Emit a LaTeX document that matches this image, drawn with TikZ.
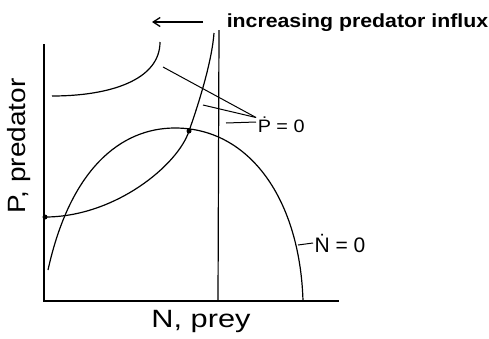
\documentclass[tikz,border=0pt]{standalone}
\usepackage{fontspec}
\setmainfont{Liberation Sans}
\usepackage{tikz}
\usetikzlibrary{arrows.meta, positioning}

\begin{document}
\begin{tikzpicture}[x=1pt, y=-1pt, >={Straight Barb[length=7pt,width=9pt]}, line width=1.2pt, every node/.style={align=center, inner sep=1pt}]
      \tikzset{axisline/.style={line width=2.6pt}, leader/.style={line width=1pt}, dotmark/.style={circle, fill, inner sep=0pt, minimum size=5pt}}
      \useasboundingbox (0, 0) rectangle (489, 338);
      \draw[axisline] (44, 44) -- (44, 301) -- (339, 301);
      \draw (218, 301) -- (219, 30);
      \draw (48, 270) .. controls (70, 170) and (120, 128) .. (175, 128) .. controls (250, 128) and (300, 200) .. (303, 301);
      \draw (45, 217) .. controls (115, 217) and (178, 165) .. (189, 131) .. controls (200, 100) and (212, 60) .. (214, 33);
      \draw (52, 96) .. controls (110, 96) and (160, 80) .. (160, 42);
      \node[dotmark] (eqlow) at (45, 217) {};
      \node[dotmark] (eqhigh) at (189, 131) {};
      \node[font=\bfseries\fontsize{19}{19}\selectfont, anchor=west, xscale=1.12] (influx) at (225, 23) {increasing predator influx};
      \coordinate (arrowstart) at (203, 22);
      \coordinate (arrowend) at (152, 22);
      \draw[->, line width=1.3pt] (arrowstart) -- (arrowend);
      \node[font=\fontsize{18}{18}\selectfont, anchor=west, xscale=1.1] (pdot) at (256, 125) {\.{P} = 0};
      \coordinate (pa) at (163, 67);
      \coordinate (pb) at (203, 105);
      \coordinate (pc) at (226, 123);
      \draw[leader] (pa) -- ([yshift=-2pt]pdot.north west);
      \draw[leader] (pb) -- ([yshift=-2pt]pdot.north west);
      \draw[leader] (pc) -- ([yshift=3pt]pdot.west);
      \node[font=\fontsize{21}{21}\selectfont, anchor=west] (ndot) at (313, 243) {\.{N} = 0};
      \coordinate (na) at (298, 245);
      \draw[leader] (na) -- (ndot.west);
      \node[font=\fontsize{25}{25}\selectfont, rotate=90, xscale=1.12] (ylab) at (19, 146) {P, predator};
      \node[font=\fontsize{25}{25}\selectfont, xscale=1.23] (xlab) at (201, 321) {N, prey};
\end{tikzpicture}
\end{document}
